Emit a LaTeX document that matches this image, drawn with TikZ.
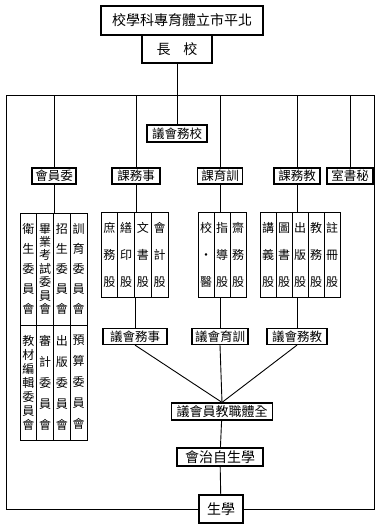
\documentclass[tikz,border=0pt]{standalone}
\usepackage{fontspec}
\newfontfamily\cjk{Noto Sans CJK TC}
\usetikzlibrary{positioning}

\tikzset{
  box/.style={draw, line width=1.2pt, inner sep=0pt, minimum height=16pt, font=\cjk\fontsize{12.5}{12.5}\selectfont},
  cell/.style={draw, line width=1pt, inner sep=0pt, outer sep=0pt, align=center},
  sec/.style={cell, minimum width=16.75pt, minimum height=85pt, font=\cjk\fontsize{12}{27}\selectfont},
  secn/.style={sec, minimum width=16pt},
  cmf/.style={cell, minimum width=16.75pt, minimum height=112pt, font=\cjk\fontsize{12}{20}\selectfont},
  cms/.style={cmf, font=\cjk\fontsize{12}{13.4}\selectfont},
  cmfb/.style={cell, minimum width=16.75pt, minimum height=115pt, font=\cjk\fontsize{12}{21}\selectfont},
  cmsb/.style={cmfb, font=\cjk\fontsize{12}{14}\selectfont},
  link/.style={line width=0.9pt},
}

\begin{document}
\begin{tikzpicture}[x=1pt, y=-1pt]
\useasboundingbox (0,0) rectangle (377,528);

% Title
\node[box, minimum width=162pt, minimum height=29pt, font=\cjk\fontsize{14}{14}\selectfont] (title) at (182,20.5) {校學科專育體立市平北};
\node[box, minimum width=70pt, minimum height=28pt, font=\cjk\fontsize{14}{14}\selectfont] (head) at (177,49) {長\hspace{13pt}校};

% Frame
\coordinate (busL) at (6,95);
\coordinate (busR) at (374,95);
\coordinate (botL) at (6,509);
\coordinate (botR) at (374,509);

% Council
\node[box, minimum width=60pt, minimum height=17pt] (council) at (177,133.5) {議會務校};

% Departments
\node[box, minimum width=44pt] (comm) at (54,176) {會員委};
\node[box, minimum width=48pt] (affairs) at (136,176) {課務事};
\node[box, minimum width=45pt] (disc) at (220,176) {課育訓};
\node[box, minimum width=46pt] (acad) at (297,176) {課務教};
\node[box, minimum width=46pt] (secr) at (350,176) {室書秘};

% Committees
\node[cmf] (ca1) at (28.4,269) {衛\\生\\委\\員\\會};
\node[cms, right=0pt of ca1] (ca2) {畢\\業\\考\\試\\委\\員\\會};
\node[cmf, right=0pt of ca2] (ca3) {招\\生\\委\\員\\會};
\node[cmf, right=0pt of ca3] (ca4) {訓\\育\\委\\員\\會};
\node[cmsb, below=0pt of ca1] (cb1) {教\\材\\編\\輯\\委\\員\\會};
\node[cmfb, right=0pt of cb1] (cb2) {審\\計\\委\\員\\會};
\node[cmfb, right=0pt of cb2] (cb3) {出\\版\\委\\員\\會};
\node[cmfb, right=0pt of cb3] (cb4) {預\\算\\委\\員\\會};

% Sections of the affairs department
\node[sec] (sa1) at (109.4,255) {庶\\務\\股};
\node[sec, right=0pt of sa1] (sa2) {繕\\印\\股};
\node[sec, right=0pt of sa2] (sa3) {文\\書\\股};
\node[sec, right=0pt of sa3] (sa4) {會\\計\\股};

% Sections of the discipline department
\node[secn] (sd1) at (206,255) {校\\・\\醫};
\node[secn, right=0pt of sd1] (sd2) {指\\導\\股};
\node[secn, right=0pt of sd2] (sd3) {齋\\務\\股};

% Sections of the academic department
\node[secn] (sc1) at (268,255) {講\\義\\股};
\node[secn, right=0pt of sc1] (sc2) {圖\\書\\股};
\node[secn, right=0pt of sc2] (sc3) {出\\版\\股};
\node[secn, right=0pt of sc3] (sc4) {教\\務\\股};
\node[secn, right=0pt of sc4] (sc5) {註\\冊\\股};

% Meetings
\node[box, minimum width=64pt] (m1) at (135,336.5) {議會務事};
\node[box, minimum width=56pt] (m2) at (220,336.5) {議會育訓};
\node[box, minimum width=60pt] (m3) at (297,336.5) {議會務教};

% General meeting, union, students
\node[box, minimum width=101pt, minimum height=17pt, font=\cjk\fontsize{13}{13}\selectfont] (all) at (222,411.5) {議會員教職體全};
\node[box, minimum width=86pt, minimum height=18pt, font=\cjk\fontsize{14}{14}\selectfont] (union) at (220,457) {會治自生學};
\node[box, minimum width=44pt, minimum height=28pt, font=\cjk\fontsize{14}{14}\selectfont] (stud) at (221,509) {生學};

% Connectors
\draw[link] (stud.west) -- (botL) -- (busL) -- (busR) -- (botR) -- (stud.east);
\draw[link] (head) -- (council);
\draw[link] (comm) -- (comm |- busL);
\draw[link] (affairs) -- (affairs |- busL);
\draw[link] (disc) -- (disc |- busL);
\draw[link] (acad) -- (acad |- busL);
\draw[link] (secr) -- (secr |- busL);
\draw[link] (comm) -- (comm |- ca1.north);
\draw[link] (affairs) -- (affairs |- sa1.north);
\draw[link] (disc) -- (disc |- sd1.north);
\draw[link] (acad) -- (acad |- sc1.north);
\draw[link] (m1 |- sa1.south) -- (m1);
\draw[link] (m2 |- sd1.south) -- (m2);
\draw[link] (m3 |- sc1.south) -- (m3);
\draw[link] (m1.south) -- (all.north);
\draw[link] (m2.south) -- (all.north);
\draw[link] (m3.south) -- (all.north);
\draw[link] (all) -- (union);
\draw[link] (union) -- (stud);

\end{tikzpicture}
\end{document}
